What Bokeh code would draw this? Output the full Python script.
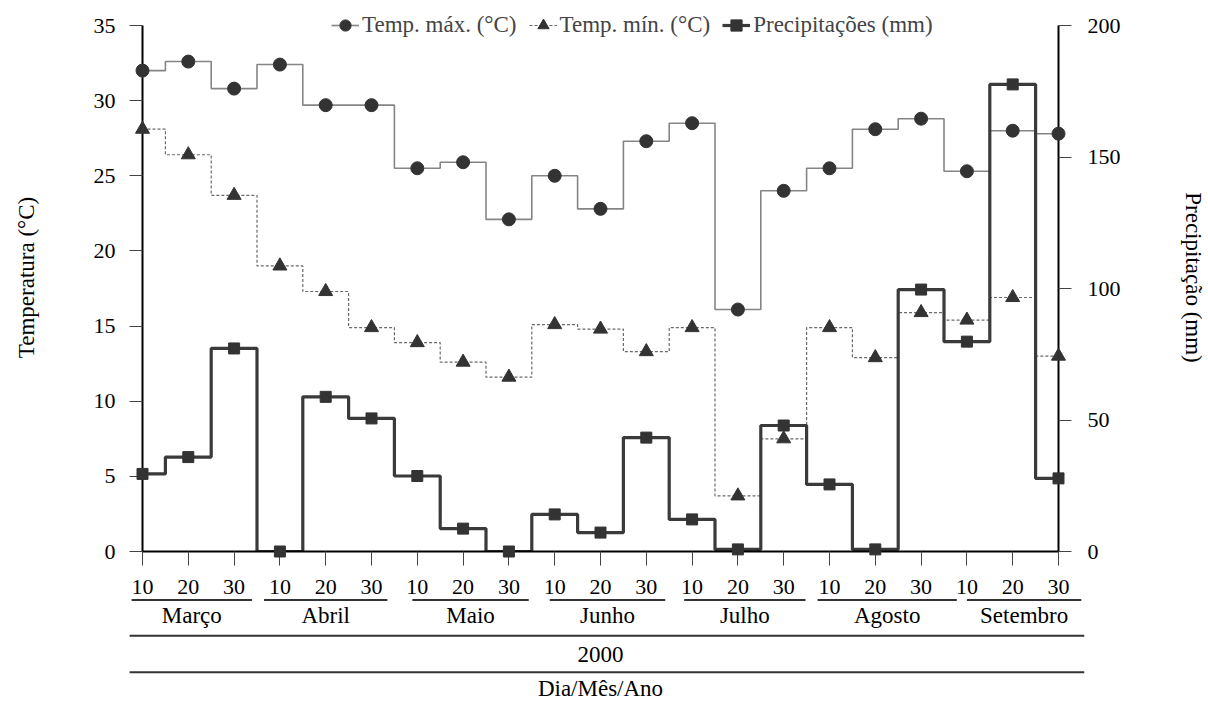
from bokeh.plotting import figure
from bokeh.models import Range1d, LinearAxis, FixedTicker, Legend, LegendItem
from bokeh.layouts import column
from bokeh.core.properties import value
from bokeh.embed import file_html
from bokeh.resources import INLINE

# ---------------- data ----------------
months = ["Março", "Abril", "Maio", "Junho", "Julho", "Agosto", "Setembro"]
days = ["10", "20", "30"]
year = "2000"
x_title = "Dia/Mês/Ano"

tmax = [32.0, 32.6, 30.8, 32.4, 29.7, 29.7, 25.5, 25.9, 22.1, 25.0, 22.8,
        27.3, 28.5, 16.1, 24.0, 25.5, 28.1, 28.8, 25.3, 28.0, 27.8]
tmin = [28.1, 26.4, 23.7, 19.0, 17.3, 14.9, 13.9, 12.6, 11.6, 15.1, 14.8,
        13.3, 14.9, 3.7, 7.5, 14.9, 12.9, 15.9, 15.4, 16.9, 13.0]
prec = [29.5, 35.9, 77.2, 0.0, 58.8, 50.6, 28.7, 8.7, 0.0, 14.1, 7.2,
        43.3, 12.2, 0.8, 47.9, 25.5, 0.8, 99.6, 79.8, 177.6, 27.8]

temp_ticks = [0, 5, 10, 15, 20, 25, 30, 35]
prec_ticks = [0, 50, 100, 150, 200]
TEMP_MAX, PREC_MAX = 35, 200

x = list(range(len(tmax)))
tick_labels = {i: days[i % 3] for i in x}

# ---------------- layout constants ----------------
FONT = "Liberation Serif"
FS_TICK = "22px"
FS = "23px"
W = 1208
FRAME_L, FRAME_R = 142, 1066
PX = (FRAME_R - FRAME_L) / (len(x) - 1)
AXIS_TOP, AXIS_BOTTOM = 25, 551          # page px of value 35 / value 0
FRAME_TOP = 3                            # frame extends a bit above the axes' top
MAIN_H = 597
grow = (AXIS_BOTTOM - FRAME_TOP) / (AXIS_BOTTOM - AXIS_TOP)

p = figure(width=W, height=MAIN_H, x_range=Range1d(0, len(x) - 1),
           y_range=Range1d(0, TEMP_MAX * grow),
           output_backend="svg", toolbar_location=None,
           min_border_left=FRAME_L, min_border_right=W - FRAME_R,
           min_border_top=FRAME_TOP, min_border_bottom=MAIN_H - AXIS_BOTTOM)
p.extra_y_ranges = {"prec": Range1d(0, PREC_MAX * grow)}
p.xgrid.visible = False
p.ygrid.visible = False
p.outline_line_color = None


def style_axis(ax):
    ax.axis_line_color = "black"
    ax.axis_line_width = 2
    ax.major_tick_line_color = "#444444"
    ax.major_tick_line_width = 1
    ax.major_tick_in = 0
    ax.major_tick_out = 13
    ax.minor_tick_line_color = None
    ax.major_label_text_font = FONT
    ax.major_label_text_font_size = FS_TICK
    ax.major_label_text_color = "black"
    ax.axis_label_text_font = FONT
    ax.axis_label_text_font_size = FS
    ax.axis_label_text_font_style = "normal"
    ax.axis_label_text_color = "black"


xa = p.xaxis[0]
style_axis(xa)
xa.ticker = FixedTicker(ticks=x)
xa.major_label_overrides = tick_labels
xa.major_tick_out = 14
xa.major_label_standoff = 14

ya = p.yaxis[0]
style_axis(ya)
ya.ticker = FixedTicker(ticks=temp_ticks)
ya.bounds = (0, TEMP_MAX)
ya.axis_label = "Temperatura (°C)"
ya.major_label_standoff = 14
ya.axis_label_standoff = 52

ra = LinearAxis(y_range_name="prec", ticker=FixedTicker(ticks=prec_ticks),
                axis_label="Precipitação (mm)", bounds=(0, PREC_MAX))
style_axis(ra)
ra.major_label_standoff = 16
ra.axis_label_standoff = 57
p.add_layout(ra, "right")

DARK = "#333333"
l_max = p.step(x, tmax, mode="center", line_color="#858585", line_width=1.6)
l_min = p.step(x, tmin, mode="center", line_color="#6a6a6a", line_width=1.2,
               line_dash="3 2")
l_pr = p.step(x, prec, mode="center", line_color="#3a3a3a", line_width=3.2,
              y_range_name="prec")
m_max = p.scatter(x, tmax, marker="circle", size=13, color=DARK, level="overlay")
m_min = p.scatter(x, tmin, marker="triangle", size=14, color=DARK, level="overlay")
m_pr = p.scatter(x, prec, marker="square", size=11, color=DARK, level="overlay",
                 y_range_name="prec")

legend = Legend(items=[
    LegendItem(label="Temp. máx. (°C)", renderers=[l_max, m_max]),
    LegendItem(label="Temp. mín. (°C)", renderers=[l_min, m_min]),
    LegendItem(label="Precipitações (mm)", renderers=[l_pr, m_pr]),
], orientation="horizontal", location=(189, AXIS_BOTTOM - 39), glyph_width=28,
    glyph_height=28, label_height=28, label_standoff=3, spacing=12, padding=0, margin=0,
    border_line_color=None, background_fill_alpha=0,
    label_text_font=FONT, label_text_font_size="23px")
p.add_layout(legend)

# ---------------- lower category labels ----------------
BH = 702 - MAIN_H
b = figure(width=W, height=BH, x_range=Range1d(0, len(x) - 1),
           y_range=Range1d(BH, 0), output_backend="svg", toolbar_location=None,
           x_axis_type=None, y_axis_type=None,
           min_border_left=FRAME_L, min_border_right=W - FRAME_R,
           min_border_top=0, min_border_bottom=0)
b.xgrid.visible = False
b.ygrid.visible = False
b.outline_line_color = None

# month underline extents (px beyond first / last decade tick)
ext_l = [11, 16, 5, 5, 8, 12, 0]
ext_r = [18, 16, 20, 19, 22, 36, 23]
x0 = [3 * i - ext_l[i] / PX for i in range(len(months))]
x1 = [3 * i + 2 + ext_r[i] / PX for i in range(len(months))]
b.segment(x0=x0, y0=[2.5] * len(months), x1=x1, y1=[2.5] * len(months),
          line_color=DARK, line_width=2, level="overlay")
xc = [(a + c) / 2 for a, c in zip(x0, x1)]
b.text(x=xc, y=[18] * len(months), text=months, text_font=value(FONT),
       text_font_size=FS, text_align="center", text_baseline="middle",
       text_color="black", level="overlay")

full_l, full_r = (129 - FRAME_L) / PX, (1092 - FRAME_L) / PX
b.segment(x0=[full_l, full_l], y0=[38.3, 74.7], x1=[full_r, full_r], y1=[38.3, 74.7],
          line_color=DARK, line_width=2, level="overlay")
mid = (len(x) - 1) / 2
b.text(x=[mid, mid], y=[56.5, 91], text=[year, x_title], text_font=value(FONT),
       text_font_size=FS, text_align="center", text_baseline="middle",
       text_color="black", level="overlay")

layout = column(p, b, spacing=0)
open("out.html", "w").write(file_html(layout, INLINE))
